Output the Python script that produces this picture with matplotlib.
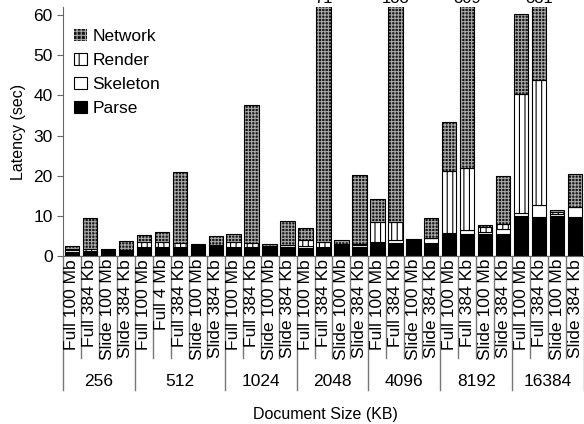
import matplotlib
matplotlib.use("Agg")
import matplotlib.pyplot as plt
import matplotlib.transforms as mtransforms
from matplotlib.patches import Patch
import numpy as np

plt.rcParams['font.family'] = ['Liberation Sans', 'DejaVu Sans']
plt.rcParams['hatch.linewidth'] = 0.8

groups = ['256', '512', '1024', '2048', '4096', '8192', '16384']
group_configs = [
    ['Full 100 Mb', 'Full 384 Kb', 'Slide 100 Mb', 'Slide 384 Kb'],
    ['Full 100 Mb', 'Full 4 Mb', 'Full 384 Kb', 'Slide 100 Mb', 'Slide 384 Kb'],
    ['Full 100 Mb', 'Full 384 Kb', 'Slide 100 Mb', 'Slide 384 Kb'],
    ['Full 100 Mb', 'Full 384 Kb', 'Slide 100 Mb', 'Slide 384 Kb'],
    ['Full 100 Mb', 'Full 384 Kb', 'Slide 100 Mb', 'Slide 384 Kb'],
    ['Full 100 Mb', 'Full 384 Kb', 'Slide 100 Mb', 'Slide 384 Kb'],
    ['Full 100 Mb', 'Full 384 Kb', 'Slide 100 Mb', 'Slide 384 Kb'],
]

parse = [1.1, 0.9, 1.2, 1.2,
         1.9, 2.0, 1.9, 2.7, 2.15,
         1.9, 1.9, 2.2, 2.3,
         2.05, 2.05, 2.4, 2.3,
         3.5, 3.3, 3.7, 3.3,
         5.6, 5.4, 5.4, 5.5,
         9.95, 9.8, 9.95, 9.6]
skeleton = [0.3, 0.3, 0.15, 0.2,
            0.3, 0.3, 0.3, 0.05, 0.4,
            0.3, 0.3, 0.2, 0.4,
            0.4, 0.3, 0.3, 0.4,
            0.1, 0.8, 0.1, 1.1,
            0.1, 1.1, 0.5, 1.2,
            0.8, 2.9, 0.5, 2.5]
render = [0.3, 0.6, 0.1, 0.2,
          1.3, 1.2, 1.0, 0.05, 0.3,
          1.4, 1.0, 0.2, 0.1,
          1.5, 1.1, 0.3, 0.2,
          4.9, 4.4, 0.1, 0.1,
          15.4, 15.5, 1.2, 1.3,
          29.7, 31.0, 0.6, 0.1]
network = [0.9, 7.6, 0.3, 2.1,
           1.7, 2.5, 17.8, 0.1, 2.2,
           1.9, 34.4, 0.4, 6.0,
           2.95, 67.5, 1.0, 17.2,
           5.7, 129.5, 0.3, 4.9,
           12.2, 287.0, 0.6, 11.9,
           19.7, 287.3, 0.4, 8.1]

y_max = 62
y_ticks = [0, 10, 20, 30, 40, 50, 60]

bar_labels = [c for g in group_configs for c in g]
n = len(bar_labels)
x = np.arange(n)

fig = plt.figure(figsize=(5.84, 4.24), dpi=100)
ax = fig.add_axes([63 / 584, (424 - 256) / 424, 521 / 584, 249 / 424])

w = 0.8
parse_a = np.array(parse)
skel_a = np.array(skeleton)
rend_a = np.array(render)
net_a = np.array(network)

ax.bar(x, parse_a, w, color='black', edgecolor='black', linewidth=0.8)
ax.bar(x, skel_a, w, bottom=parse_a, color='white', edgecolor='black', linewidth=0.8)
ax.bar(x, rend_a, w, bottom=parse_a + skel_a, color='white', edgecolor='black',
       hatch='|||', linewidth=0.8)
b3 = parse_a + skel_a + rend_a
ax.bar(x, net_a, w, bottom=b3, color='#151515', edgecolor='#a8a8a8',
       hatch='+++++', linewidth=0)
ax.bar(x, net_a, w, bottom=b3, fill=False, edgecolor='black', linewidth=0.8)

ax.set_xlim(-0.5, n - 0.5)
ax.set_ylim(0, y_max)
ax.set_yticks(y_ticks)
ax.set_xticks([])
for s in ['top', 'right']:
    ax.spines[s].set_visible(False)
for s in ['left', 'bottom']:
    ax.spines[s].set_color('#666666')
ax.tick_params(axis='y', direction='out', length=4, color='#666666', labelsize=12.5)
ax.set_ylabel('Latency (sec)', fontsize=11.5, labelpad=5)

trans = mtransforms.blended_transform_factory(ax.transData, ax.transAxes)
ax_h = 249.0
# bar labels
for i, lab in enumerate(bar_labels):
    ax.text(i, -3 / ax_h, lab, rotation=90, ha='center', va='top',
            fontsize=12.6, transform=trans)
# separators
group_starts = np.cumsum([0] + [len(g) for g in group_configs])
for b in range(n + 1):
    is_group = b in group_starts
    y1 = -(390 - 256) / ax_h if is_group else -(358 - 256) / ax_h
    ax.plot([b - 0.5, b - 0.5], [0, y1], color='#777777', lw=1,
            transform=trans, clip_on=False)
# group labels
for gi, g in enumerate(groups):
    c = (group_starts[gi] + group_starts[gi + 1] - 1) / 2
    ax.text(c, -(381 - 256) / ax_h, g, ha='center', va='center',
            fontsize=12.5, transform=trans)

fig.text(325 / 584, 1 - 414 / 424, 'Document Size (KB)', ha='center', va='center',
         fontsize=11.5)

# overflow labels (cut at the top edge as in the reference)
totals = parse_a + skel_a + rend_a + net_a
ftrans = mtransforms.blended_transform_factory(ax.transData, fig.transFigure)
for i, t in enumerate(totals):
    if t > y_max:
        fig.text(i, 1 - 3 / 424, f'{t:.0f}', ha='center', va='baseline',
                 fontsize=12, transform=ftrans)

handles = [
    Patch(facecolor='#151515', edgecolor='#a8a8a8', hatch='++++', linewidth=0),
    Patch(facecolor='white', edgecolor='black', hatch='||', linewidth=0.8),
    Patch(facecolor='white', edgecolor='black', linewidth=0.8),
    Patch(facecolor='black', edgecolor='black', linewidth=0.8),
]
ax.legend(handles, ['Network', 'Render', 'Skeleton', 'Parse'], loc='upper left',
          bbox_to_anchor=(0.022, (256 - 29) / ax_h), frameon=False, fontsize=12.5,
          handlelength=0.72, handleheight=0.72, handletextpad=0.3,
          labelspacing=0.5, borderpad=0, borderaxespad=0)

fig.savefig('out.png', dpi=100)
